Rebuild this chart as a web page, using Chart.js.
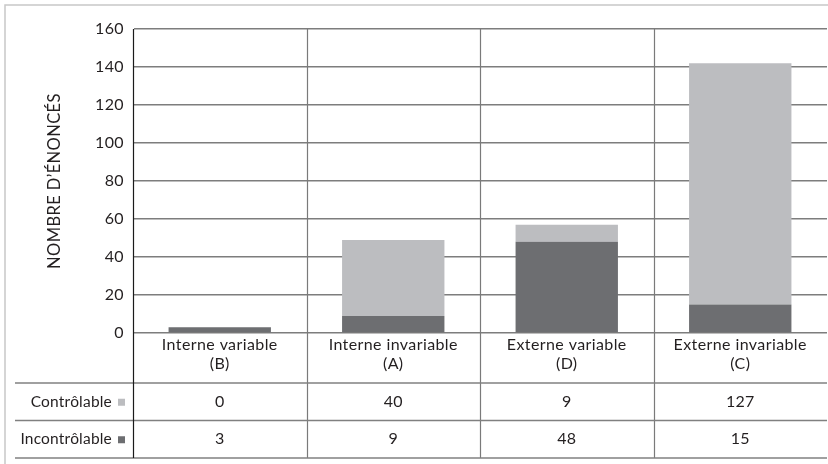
<!DOCTYPE html>
<html>
<head>
<meta charset="utf-8">
<script src="https://cdn.jsdelivr.net/npm/chart.js@4.4.1/dist/chart.umd.min.js"></script>
<style>
  html, body { margin: 0; padding: 0; background: #fff; }
  #wrap { width: 828px; height: 464px; }
</style>
</head>
<body>
<div id="wrap"><canvas id="chart" width="828" height="464"></canvas></div>
<script>
// données
const categories = [
    ['Interne variable', '(B)'],
    ['Interne invariable', '(A)'],
    ['Externe variable', '(D)'],
    ['Externe invariable', '(C)']
];
const controlable = [0, 40, 9, 127];
const incontrolable = [3, 9, 48, 15];
const yTicks = [0, 20, 40, 60, 80, 100, 120, 140, 160];

const LIGHT = '#bcbdc0';
const DARK = '#6d6e71';
const TEXT = '#231f20';
const FONT = 'Lato, "Open Sans", sans-serif';
const SPACING = '0.4px';

const TABLE_TOP = 383;
const ROW_H = 37.5;
const TABLE_LEFT = 15;

// table de données sous le graphique
const tablePlugin = {
    id: 'dataTable',
    beforeDraw(chart) {
        const ctx = chart.ctx;
        ctx.save();
        ctx.fillStyle = '#fff';
        ctx.fillRect(0, 0, chart.width, chart.height);
        // cadre
        ctx.strokeStyle = '#c8c8c8';
        ctx.lineWidth = 1.5;
        ctx.beginPath();
        ctx.moveTo(5, chart.height);
        ctx.lineTo(5, 5);
        ctx.lineTo(chart.width, 5);
        ctx.stroke();
        ctx.restore();
        ctx.letterSpacing = SPACING;
    },
    afterDraw(chart) {
        const ctx = chart.ctx;
        const x = chart.scales.x;
        const area = chart.chartArea;
        const bottom = TABLE_TOP + ROW_H * 2;
        const half = (x.getPixelForValue(1) - x.getPixelForValue(0)) / 2;
        ctx.save();

        // séparateurs verticaux entre catégories
        ctx.strokeStyle = '#7a7a7a';
        ctx.lineWidth = 1.2;
        for (let i = 1; i < categories.length; i++) {
            const px = Math.round(x.getPixelForValue(i) - half) + 0.5;
            ctx.beginPath();
            ctx.moveTo(px, area.top);
            ctx.lineTo(px, bottom);
            ctx.stroke();
        }

        // lignes horizontales de la table
        ctx.strokeStyle = '#808080';
        ctx.lineWidth = 1.5;
        [TABLE_TOP, TABLE_TOP + ROW_H, bottom].forEach(y => {
            ctx.beginPath();
            ctx.moveTo(TABLE_LEFT, y);
            ctx.lineTo(area.right, y);
            ctx.stroke();
        });

        // axe vertical prolongé
        ctx.strokeStyle = '#1a1a1a';
        ctx.lineWidth = 1.2;
        ctx.beginPath();
        ctx.moveTo(area.left + 0.5, area.top);
        ctx.lineTo(area.left + 0.5, bottom);
        ctx.stroke();

        // contenu des lignes
        const rows = [
            { label: 'Contrôlable', color: LIGHT, values: controlable },
            { label: 'Incontrôlable', color: DARK, values: incontrolable }
        ];
        ctx.font = '15.5px ' + FONT;
        ctx.letterSpacing = '0.2px';
        ctx.fillStyle = TEXT;
        ctx.textBaseline = 'middle';
        rows.forEach((row, r) => {
            const cy = TABLE_TOP + ROW_H * r + ROW_H / 2;
            ctx.fillStyle = row.color;
            ctx.fillRect(area.left - 15, cy - 3, 7, 7);
            ctx.fillStyle = TEXT;
            ctx.textAlign = 'right';
            ctx.fillText(row.label, area.left - 21, cy);
            ctx.textAlign = 'center';
            ctx.font = '16px ' + FONT;
            row.values.forEach((v, i) => {
                ctx.fillText(String(v), x.getPixelForValue(i), cy);
            });
            ctx.font = '15.5px ' + FONT;
        });
        ctx.restore();
    }
};

const ctx = document.getElementById('chart').getContext('2d');
const chart = new Chart(ctx, {
    type: 'bar',
    data: {
        labels: categories,
        datasets: [
            {
                label: 'Incontrôlable',
                data: incontrolable,
                backgroundColor: DARK,
                borderWidth: 0
            },
            {
                label: 'Contrôlable',
                data: controlable,
                backgroundColor: LIGHT,
                borderWidth: 0
            }
        ]
    },
    options: {
        responsive: false,
        animation: false,
        events: [],
        categoryPercentage: 1.0,
        barPercentage: 0.59,
        layout: {
            padding: { top: 29, right: 1, bottom: 464 - TABLE_TOP, left: 0 }
        },
        scales: {
            x: {
                stacked: true,
                grid: { display: false, drawTicks: false },
                border: { display: false },
                ticks: {
                    color: TEXT,
                    font: { family: FONT, size: 16, lineHeight: 1.15 },
                    padding: 3,
                    maxRotation: 0,
                    autoSkip: false
                },
                afterFit(scale) { scale.height = TABLE_TOP - 333; }
            },
            y: {
                stacked: true,
                min: 0,
                max: 160,
                afterBuildTicks(scale) {
                    scale.ticks = yTicks.map(v => ({ value: v }));
                },
                grid: { color: '#7d7d7d', lineWidth: 1.5, drawTicks: false },
                border: { display: true, color: '#1a1a1a', width: 1 },
                ticks: {
                    color: TEXT,
                    font: { family: FONT, size: 16 },
                    padding: 9
                },
                title: {
                    display: true,
                    text: 'NOMBRE D\u2019ÉNONCÉS',
                    color: TEXT,
                    font: { family: FONT, size: 16.5 },
                    padding: { top: 45, bottom: 0 }
                },
                afterFit(scale) { scale.width = 133; }
            }
        },
        plugins: {
            legend: { display: false },
            tooltip: { enabled: false }
        }
    },
    plugins: [tablePlugin]
});
</script>
</body>
</html>
